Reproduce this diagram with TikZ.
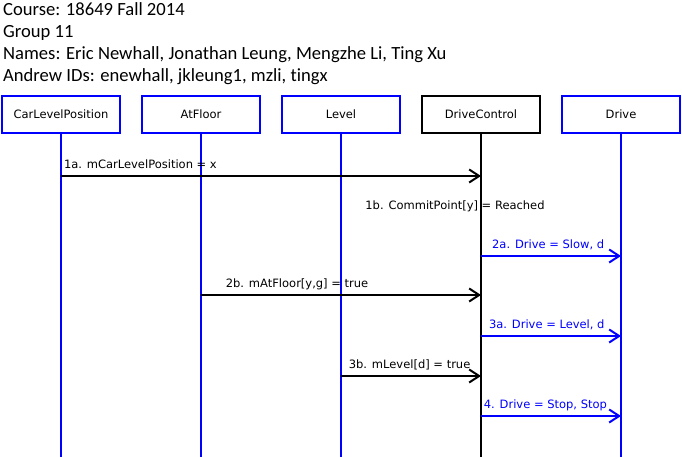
\documentclass[tikz,border=0pt]{standalone}
\usepackage{fontspec}
\setmainfont{Carlito}[Ligatures=NoCommon]
\newfontfamily\diagfont{DejaVu Sans}
\usetikzlibrary{arrows.meta}
\begin{document}
\begin{tikzpicture}[x=1pt,y=-1pt,
    head/.style={anchor=base west,inner sep=0pt,font=\fontsize{18.6}{22}\selectfont},
    lifebox/.style={draw=blue,line width=2pt,minimum width=118pt,minimum height=37pt,inner sep=0pt,font=\diagfont\fontsize{11.5}{14}\selectfont},
    ctrlbox/.style={lifebox,draw=black},
    lifeline/.style={blue,line width=2pt},
    msg/.style={line width=2pt,-{Straight Barb[length=10pt,width=13pt]}},
    lbl/.style={anchor=base,yshift=8pt,inner sep=0pt,font=\diagfont\fontsize{11.5}{14}\selectfont}]
  \useasboundingbox (0,0) rectangle (682,457);
  \node[head] (course) at (3,16) {Course: 18649 Fall 2014};
  \node[head] (group) at (3,38) {Group 11};
  \node[head] (names) at (3,60) {Names: Eric Newhall, Jonathan Leung, Mengzhe Li, Ting Xu};
  \node[head] (ids) at (3,82) {Andrew IDs: enewhall, jkleung1, mzli, tingx};
  \node[lifebox] (car) at (61,114.5) {CarLevelPosition};
  \node[lifebox] (floor) at (201,114.5) {AtFloor};
  \node[lifebox] (level) at (341,114.5) {Level};
  \node[ctrlbox] (ctrl) at (481,114.5) {DriveControl};
  \node[lifebox] (drive) at (621,114.5) {Drive};
  \coordinate (carEnd) at (61,457);
  \coordinate (floorEnd) at (201,457);
  \coordinate (levelEnd) at (341,457);
  \coordinate (ctrlEnd) at (481,457);
  \coordinate (driveEnd) at (621,457);
  \draw[lifeline] (car) -- (carEnd);
  \draw[lifeline] (floor) -- (floorEnd);
  \draw[lifeline] (level) -- (levelEnd);
  \draw[line width=2pt] (ctrl) -- (ctrlEnd);
  \draw[lifeline] (drive) -- (driveEnd);
  \coordinate (r1a) at (0,176);
  \coordinate (r1b) at (0,209);
  \coordinate (r2a) at (0,256);
  \coordinate (r2b) at (0,295);
  \coordinate (r3a) at (0,336);
  \coordinate (r3b) at (0,376);
  \coordinate (r4) at (0,416);
  \draw[msg] (car |- r1a) -- node[lbl,anchor=base west,pos=0,xshift=2pt] {1a. mCarLevelPosition = x} (ctrl |- r1a);
  \node[lbl,yshift=-8pt,xshift=-26pt] (commit) at (ctrl |- r1b) {1b. CommitPoint[y] = Reached};
  \draw[msg,blue] (ctrl |- r2a) -- node[lbl,pos=.48] {2a. Drive = Slow, d} (drive |- r2a);
  \draw[msg] (floor |- r2b) -- node[lbl,pos=.343] {2b. mAtFloor[y,g] = true} (ctrl |- r2b);
  \draw[msg,blue] (ctrl |- r3a) -- node[lbl,pos=.47] {3a. Drive = Level, d} (drive |- r3a);
  \draw[msg] (level |- r3b) -- node[lbl,pos=.49] {3b. mLevel[d] = true} (ctrl |- r3b);
  \draw[msg,blue] (ctrl |- r4) -- node[lbl,pos=.46] {4. Drive = Stop, Stop} (drive |- r4);
\end{tikzpicture}
\end{document}
